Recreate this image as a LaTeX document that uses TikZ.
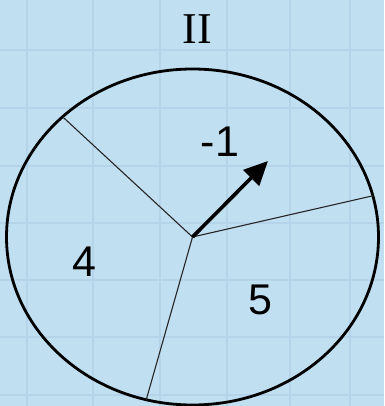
\documentclass[tikz,border=0pt]{standalone}
\usepackage{fontspec}
\setmainfont{Liberation Sans}
\newfontfamily\romanfont{Liberation Serif}
\usetikzlibrary{arrows.meta}
\definecolor{paper}{RGB}{192,223,241}
\definecolor{gridline}{RGB}{181,212,233}

\begin{document}
\begin{tikzpicture}[x=1pt,y=-1pt,
		sector/.style={font=\fontsize{43}{43}\selectfont, inner sep=0pt},
		spoke/.style={draw=black!85, line width=1.1pt}]
	% Background with grid
	\fill[paper] (0,0) rectangle (384,406);
	\useasboundingbox (0,0) rectangle (384,406);
	\foreach \x in {27,93,160,227,290,350}
		\draw[gridline, line width=1.3pt] (\x,0) -- (\x,406);
	\foreach \y in {50,108,166,223,280,337,395}
		\draw[gridline, line width=1.3pt] (0,\y) -- (384,\y);
	
	% Disc
	\coordinate (hub) at (192.5,237);
	\draw[line width=2.8pt] (hub) ellipse [x radius=186, y radius=168];
	\node[sector, font=\romanfont\fontsize{44}{44}\selectfont] (title) at (197,29) {II};
	
	% Spokes
	\path (hub) ++(225.7:186 and 168) coordinate (rimA);
	\path (hub) ++(-14.2:186 and 168) coordinate (rimB);
	\path (hub) ++(104.4:186 and 168) coordinate (rimC);
	\draw[spoke] (hub) -- (rimA);
	\draw[spoke] (hub) -- (rimB);
	\draw[spoke] (hub) -- (rimC);
	
	% Arrow
	\coordinate (tip) at (268,161);
	\draw[-{Triangle[length=24pt,width=22pt]}, line width=3.6pt] (hub) -- (tip);
	
	% Sector values
	\node[sector] (top) at (220,142) {-1};
	\node[sector] (left) at (84,262) {4};
	\node[sector] (right) at (260,300) {5};
\end{tikzpicture}
\end{document}
